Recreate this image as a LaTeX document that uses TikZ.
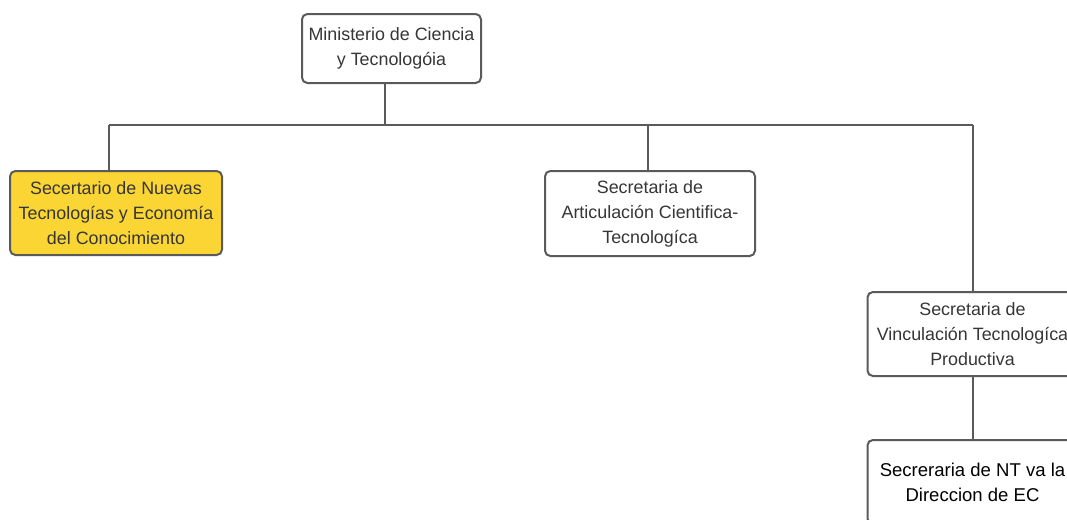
\documentclass[tikz,border=0pt]{standalone}
\usepackage{fontspec}
\setmainfont{Liberation Sans}
\definecolor{linegray}{HTML}{5A5A5A}
\definecolor{txtgray}{HTML}{363636}
\definecolor{boxyellow}{RGB}{250,213,52}
\begin{document}
\begin{tikzpicture}[x=0.75pt,y=-0.75pt,
  orgbox/.style={draw=linegray, line width=1.5pt, rounded corners=4pt, fill=white,
    align=center, inner sep=0pt, text=txtgray,
    font=\fontsize{13.4pt}{18.75pt}\selectfont},
  conn/.style={draw=linegray, line width=1.5pt}]
\useasboundingbox (0,0) rectangle (1067,519);
\clip (0,0) rectangle (1067,519);
\node[orgbox, minimum width=134.25pt, minimum height=51.75pt] (min) at (391.5,48.5)
  {Ministerio de Ciencia\\y Tecnologóia};
\node[orgbox, fill=boxyellow, minimum width=159pt, minimum height=63pt] (nt) at (116,213)
  {Secertario de Nuevas\\Tecnologías y Economía\\del Conocimiento};
\node[orgbox, minimum width=157.5pt, minimum height=63.75pt] (art) at (650,213.5)
  {Secretaria de\\Articulación Cientifica-\\Tecnologíca};
\node[orgbox, minimum width=157.5pt, minimum height=63pt] (vin) at (972.5,334)
  {Secretaria de\\Vinculación Tecnologíca\\Productiva};
\node[orgbox, text=black, minimum width=157.5pt, minimum height=63pt,
  font=\fontsize{13.9pt}{18.75pt}\selectfont] (ec) at (972.5,482)
  {Secreraria de NT va la\\Direccion de EC};
\coordinate (busL) at (109,125);
\coordinate (busR) at (972.5,125);
\coordinate (stem) at (385,125);
\coordinate (artx) at (648,125);
\draw[conn] (min.south -| stem) -- (stem);
\draw[conn] (busL) -- (busR);
\draw[conn] (busL) -- (nt.north -| busL);
\draw[conn] (artx) -- (art.north -| artx);
\draw[conn] (busR) -- (vin.north);
\draw[conn] (vin.south) -- (ec.north);
\end{tikzpicture}
\end{document}
